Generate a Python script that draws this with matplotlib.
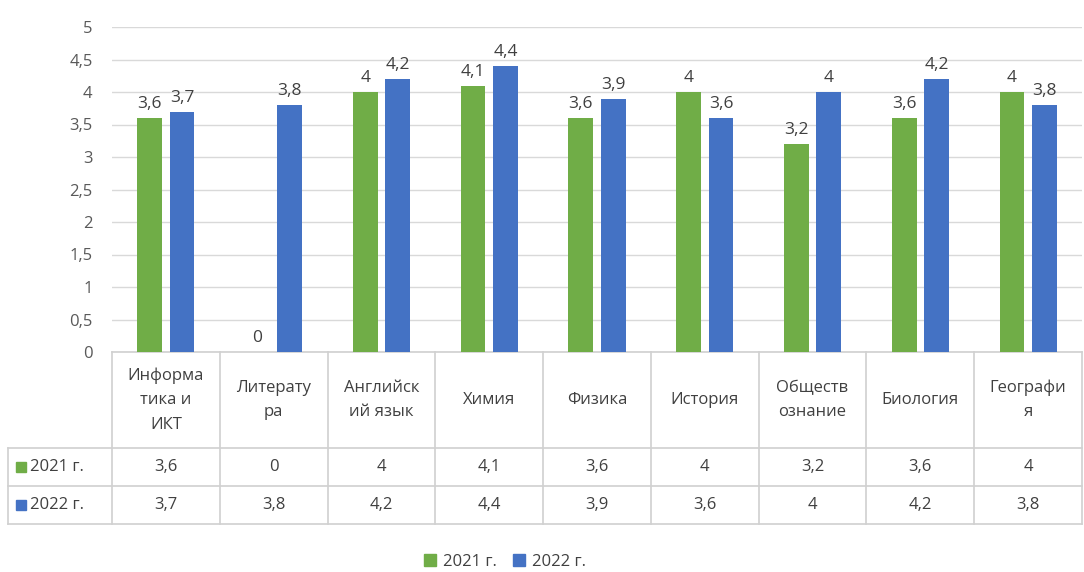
import matplotlib
matplotlib.use("Agg")
import matplotlib.pyplot as plt
import numpy as np
from matplotlib.patches import Rectangle
from matplotlib.lines import Line2D

# data
subjects = ["Информа\nтика и\nИКТ", "Литерату\nра", "Английск\nий язык", "Химия",
            "Физика", "История", "Обществ\nознание", "Биология", "Географи\nя"]
vals_2021 = [3.6, 0, 4, 4.1, 3.6, 4, 3.2, 3.6, 4]
vals_2022 = [3.7, 3.8, 4.2, 4.4, 3.9, 3.6, 4, 4.2, 3.8]
series_names = ["2021 г.", "2022 г."]
yticks = [0, 0.5, 1, 1.5, 2, 2.5, 3, 3.5, 4, 4.5, 5]

GREEN = "#70AD47"
BLUE = "#4472C4"
TXT = "#595959"
GRID = "#D9D9D9"

plt.rcParams['font.family'] = ['Open Sans', 'DejaVu Sans']

W, H = 1084, 572
fig = plt.figure(figsize=(W / 100, H / 100), dpi=100)
ax = fig.add_axes([112 / W, 1 - 352 / H, (1082 - 112) / W, (352 - 27) / H])

def fmt(v):
    s = ("%g" % v).replace(".", ",")
    return s

x = np.arange(len(subjects))
off, bw = 0.15, 0.23
b1 = ax.bar(x - off, vals_2021, bw, color=GREEN, zorder=3)
b2 = ax.bar(x + off, vals_2022, bw, color=BLUE, zorder=3)
for bars, vals in ((b1, vals_2021), (b2, vals_2022)):
    for r, v in zip(bars, vals):
        ax.annotate(fmt(v), (r.get_x() + r.get_width() / 2, v), xytext=(0, 4),
                    textcoords="offset points", ha="center", va="bottom",
                    fontsize=12.5, color="#404040")

ax.set_xlim(-0.5, len(subjects) - 0.5)
ax.set_ylim(0, 5)
ax.set_yticks(yticks)
ax.set_yticklabels([fmt(t) for t in yticks], fontsize=12, color=TXT)
ax.tick_params(axis="y", length=0, pad=14)
ax.set_xticks([])
for s in ax.spines.values():
    s.set_visible(False)
ax.yaxis.grid(True, color=GRID, lw=1, zorder=0)

# data table under the plot
tr = ax.get_xaxis_transform()
ph = 352 - 27
def ay(py):
    return (352 - py) / ph

y_top, y_h, y_r1, y_r2 = ay(352), ay(448), ay(486), ay(524)
left_edge = (8 - 112) / (1082 - 112) * len(subjects) - 0.5
right_edge = len(subjects) - 0.5
lc = "#D0D0D0"
lines = []
lines.append(Line2D([-0.5, right_edge], [y_top, y_top], transform=tr))
for yy in (y_h, y_r1, y_r2):
    lines.append(Line2D([left_edge, right_edge], [yy, yy], transform=tr))
for i in range(len(subjects) + 1):
    lines.append(Line2D([i - 0.5, i - 0.5], [y_top, y_r2], transform=tr))
lines.append(Line2D([left_edge, left_edge], [y_h, y_r2], transform=tr))
for ln in lines:
    ln.set_color(lc)
    ln.set_linewidth(1.2)
    ln.set_clip_on(False)
    ax.add_line(ln)

for i, name in enumerate(subjects):
    ax.text(i, (y_top + y_h) / 2, name, transform=tr, ha="center", va="center",
            fontsize=12, color="#404040", linespacing=1.7, clip_on=False)
    ax.text(i, (y_h + y_r1) / 2, fmt(vals_2021[i]), transform=tr, ha="center",
            va="center", fontsize=12, color="#404040", clip_on=False)
    ax.text(i, (y_r1 + y_r2) / 2, fmt(vals_2022[i]), transform=tr, ha="center",
            va="center", fontsize=12, color="#404040", clip_on=False)

for name, col, (ya, yb) in ((series_names[0], GREEN, (448, 486)),
                            (series_names[1], BLUE, (486, 524))):
    yc = (ya + yb) / 2
    fig.patches.append(Rectangle((16 / W, 1 - (yc + 5) / H), 10 / W, 10 / H,
                                 color=col, transform=fig.transFigure))
    fig.text(30 / W, 1 - yc / H, name, ha="left", va="center", fontsize=12,
             color="#404040")

handles = [Rectangle((0, 0), 1, 1, color=GREEN), Rectangle((0, 0), 1, 1, color=BLUE)]
fig.legend(handles, series_names, loc="center", bbox_to_anchor=(505 / W, 1 - 562 / H),
           ncol=2, frameon=False, fontsize=12, handlelength=0.7, handleheight=0.7,
           handletextpad=0.4, columnspacing=1.0, labelcolor="#404040")

fig.savefig("out.png", dpi=100, facecolor="white")
